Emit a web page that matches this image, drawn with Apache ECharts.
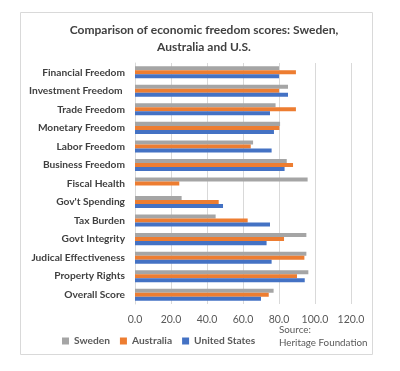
<!DOCTYPE html>
<html><head><meta charset="utf-8">
<script src="https://cdn.jsdelivr.net/npm/echarts@6/dist/echarts.min.js"></script>
<style>html,body{margin:0;padding:0;background:#fff}#c{width:400px;height:371px}</style>
</head><body><div id="c"></div>
<script>
const categories = ["Financial Freedom","Investment Freedom ","Trade Freedom","Monetary Freedom","Labor Freedom","Business Freedom","Fiscal Health","Gov't Spending","Tax Burden","Govt Integrity","Judical Effectiveness","Property Rights","Overall Score"];
const sweden    = [80, 85, 78.1, 80.6, 65.6, 84.3, 95.9, 25.9, 44.8, 95.2, 95.2, 96.3, 77.0];
const australia = [89.4, 80, 89.4, 80.2, 64.3, 87.8, 24.6, 46.5, 62.6, 82.8, 94.1, 90.0, 74.3];
const us        = [80, 85, 75.0, 77.2, 75.9, 83.1, null, 48.9, 75.0, 73.1, 75.9, 94.3, 70.0];
const seriesNames = ["Sweden","Australia","United States"];
const colors = ["#A5A5A5","#ED7D31","#4472C4"];
const chart = echarts.init(document.getElementById('c'), null, {renderer:'canvas'});
const font = "Lato, 'Noto Sans', sans-serif";
chart.setOption({
  animation:false,
  textStyle:{fontFamily:font},
  title:{text:"Comparison of economic freedom scores: Sweden,\nAustralia and U.S.", left:199, textAlign:'center', top:17,
    textStyle:{fontSize:12, fontWeight:'bold', color:'#404040', lineHeight:17, fontFamily:font}},
  graphic:[
    {type:'rect', shape:{x:20.5,y:12.5,width:352,height:342}, style:{fill:'none', stroke:'#d9d9d9', lineWidth:1}, z:-1},
    {type:'text', left:279, top:323, style:{text:"Source:\nHeritage Foundation", fill:'#595959', font:"9.8px "+font, lineHeight:13}}
  ],
  legend:{data:seriesNames, left:57, top:331, itemWidth:7, itemHeight:7, itemGap:10, itemTextGap:4, icon:'rect',
    textStyle:{fontSize:10.2, fontWeight:'bold', color:'#595959', fontFamily:font}},
  grid:{left:135, right:49, top:63, bottom:67},
  xAxis:{type:'value', min:0, max:120, interval:20,
    axisLabel:{formatter:v=>v.toFixed(1), color:'#595959', fontSize:10.5, margin:10, fontFamily:font},
    splitLine:{lineStyle:{color:'#d9d9d9'}}, axisLine:{show:false}, axisTick:{show:false}},
  yAxis:{type:'category', data:categories, inverse:true,
    axisLine:{lineStyle:{color:'#d9d9d9'}}, axisTick:{show:false},
    axisLabel:{color:'#404040', fontSize:10.2, fontWeight:'bold', margin:10, fontFamily:font}},
  series:[
    {name:seriesNames[0], type:'bar', data:sweden, itemStyle:{color:colors[0]}, barGap:'0%', barCategoryGap:'35%'},
    {name:seriesNames[1], type:'bar', data:australia, itemStyle:{color:colors[1]}, barGap:'0%', barCategoryGap:'35%'},
    {name:seriesNames[2], type:'bar', data:us, itemStyle:{color:colors[2]}, barGap:'0%', barCategoryGap:'35%'}
  ]
});
</script></body></html>
